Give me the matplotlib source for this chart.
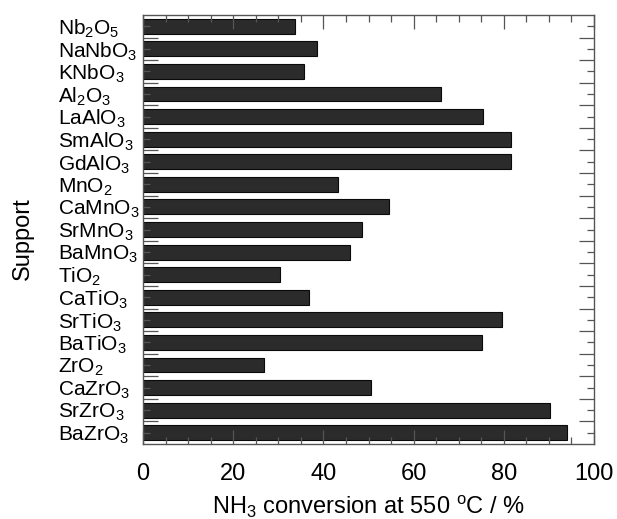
import matplotlib
matplotlib.use("Agg")
import matplotlib.pyplot as plt
from matplotlib.ticker import MultipleLocator, FixedLocator

plt.rcParams['font.family'] = ['Liberation Sans', 'DejaVu Sans']
plt.rcParams['mathtext.fontset'] = 'custom'
plt.rcParams['mathtext.rm'] = 'Liberation Sans'
plt.rcParams['mathtext.it'] = 'Liberation Sans'

# supports, top to bottom
supports = ['Nb$_2$O$_5$', 'NaNbO$_3$', 'KNbO$_3$', 'Al$_2$O$_3$', 'LaAlO$_3$',
            'SmAlO$_3$', 'GdAlO$_3$', 'MnO$_2$', 'CaMnO$_3$', 'SrMnO$_3$',
            'BaMnO$_3$', 'TiO$_2$', 'CaTiO$_3$', 'SrTiO$_3$', 'BaTiO$_3$',
            'ZrO$_2$', 'CaZrO$_3$', 'SrZrO$_3$', 'BaZrO$_3$']
# NH3 conversion at 550 C (%)
conversion = [33.8, 38.6, 35.7, 66.1, 75.5,
              81.5, 81.7, 43.2, 54.5, 48.6,
              46.0, 30.3, 36.7, 79.6, 75.1,
              26.9, 50.6, 90.2, 94.0]
xticks = [0, 20, 40, 60, 80, 100]

fig = plt.figure(figsize=(6.17, 5.19), dpi=100)
ax = fig.add_axes([0.2318, 0.1445, 0.7309, 0.8266])

pos = list(range(len(supports)))
ax.barh(pos, conversion, height=0.66, color='#2b2b2b', edgecolor='#0a0a0a', linewidth=0.8, zorder=1)

ax.set_xlim(0, 100)
ax.set_ylim(len(supports) - 0.5, -0.5)

ax.xaxis.set_major_locator(FixedLocator(xticks))
ax.xaxis.set_minor_locator(MultipleLocator(5))
ax.set_xticklabels([str(v) for v in xticks], fontsize=17)

# long ticks between categories, short ticks at the bars
ax.yaxis.set_major_locator(FixedLocator([p + 0.5 for p in pos[:-1]]))
ax.yaxis.set_minor_locator(FixedLocator(pos))
ax.set_yticklabels([], minor=False)
ax.set_yticklabels(supports, minor=True, fontsize=15, ha='left')

ax.tick_params(axis='x', which='major', direction='in', length=10, width=0.9, color='#555555',
               top=True, bottom=True, pad=14)
ax.tick_params(axis='x', which='minor', direction='in', length=5, width=0.9, color='#555555',
               top=True, bottom=True)
ax.tick_params(axis='y', which='major', direction='in', length=11, width=0.9, color='#555555',
               left=True, right=True)
ax.tick_params(axis='y', which='minor', direction='in', length=5, width=0.9, color='#555555',
               left=True, right=True, pad=61)

for s in ax.spines.values():
    s.set_color('#555555')
    s.set_linewidth(1.0)

ax.set_xlabel(r'NH$_3$ conversion at 550 $^{\rm o}$C / %', fontsize=17)
ax.xaxis.set_label_coords(0.5, -0.117)
ax.set_ylabel('Support', fontsize=17)
ax.yaxis.set_label_coords(-0.243, 0.478)

fig.savefig('out.png', dpi=100)
